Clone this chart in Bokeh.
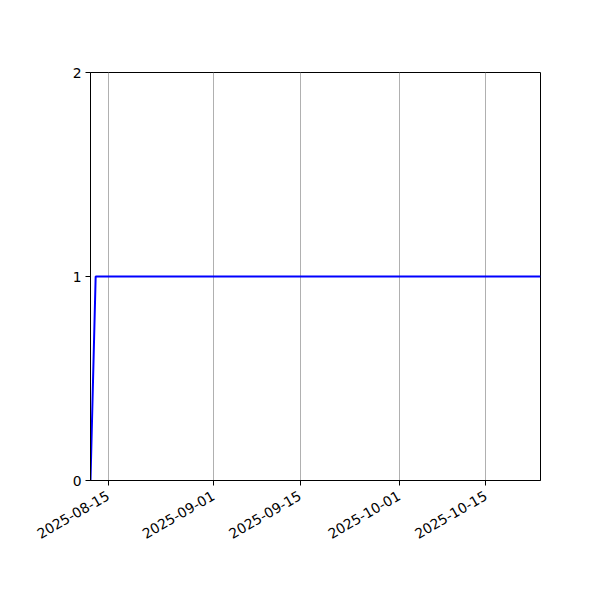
import math
from datetime import datetime
from bokeh.plotting import figure
from bokeh.models import Range1d, FixedTicker, DatetimeTickFormatter
from bokeh.embed import file_html
from bokeh.resources import INLINE

# Data
dates = [datetime(2025, 8, 12, 4, 0), datetime(2025, 8, 13, 0, 0), datetime(2025, 10, 23, 20, 0)]
values = [0, 1, 1]
x_tick_dates = [datetime(2025, 8, 15), datetime(2025, 9, 1), datetime(2025, 9, 15),
                datetime(2025, 10, 1), datetime(2025, 10, 15)]
y_ticks = [0, 1, 2]

def ms(d):
    return (d - datetime(1970, 1, 1)).total_seconds() * 1000.0

p = figure(width=600, height=600, x_axis_type="datetime", output_backend="svg",
           toolbar_location=None,
           x_range=Range1d(ms(dates[0]), ms(dates[-1])), y_range=Range1d(0, 2),
           min_border_left=90, min_border_right=60, min_border_top=72, min_border_bottom=120)
p.background_fill_color = "white"
p.border_fill_color = "white"
p.outline_line_color = "black"
p.outline_line_width = 1

p.line([ms(d) for d in dates], values, line_color="#0000ff", line_width=2)

p.xaxis.ticker = FixedTicker(ticks=[ms(d) for d in x_tick_dates])
p.xaxis.formatter = DatetimeTickFormatter(days="%Y-%m-%d", months="%Y-%m-%d", hours="%Y-%m-%d")
p.xaxis.major_label_orientation = math.pi / 6
p.yaxis.ticker = FixedTicker(ticks=y_ticks)

for ax in (p.xaxis[0], p.yaxis[0]):
    ax.axis_line_color = "black"
    ax.axis_line_width = 1
    ax.major_tick_line_color = "black"
    ax.major_tick_out = 5
    ax.major_tick_in = 0
    ax.minor_tick_line_color = None
    ax.major_label_text_font = "DejaVu Sans"
    ax.major_label_text_font_size = "13.9px"
    ax.major_label_text_color = "black"
    ax.major_label_standoff = 4
p.xaxis.major_label_standoff = 9

p.xgrid.grid_line_color = "#b0b0b0"
p.xgrid.grid_line_width = 1
p.ygrid.grid_line_color = None

open("out.html", "w").write(file_html(p, INLINE))
